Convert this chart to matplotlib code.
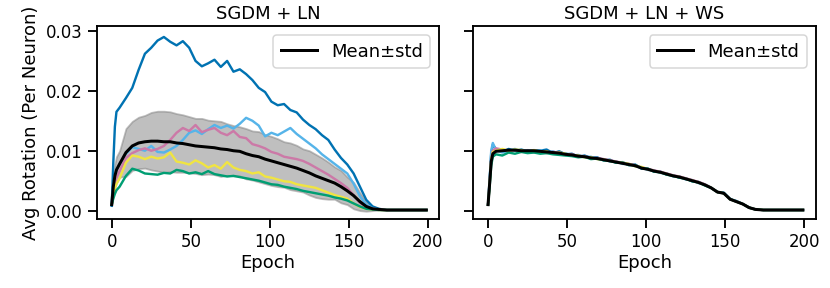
import matplotlib
matplotlib.use("Agg")
import matplotlib.pyplot as plt

# ---------------- data ----------------
epochs = [0, 1, 2, 3, 5, 9, 13, 17, 21, 25, 29, 33, 37, 41, 45, 49, 53, 57, 61, 65,
          69, 73, 77, 81, 85, 89, 93, 97, 101, 105, 109, 113, 117, 121, 125, 129,
          133, 137, 141, 145, 149, 153, 157, 161, 165, 169, 174, 185, 199]

# Left panel: SGDM + LN
ln_blue = [0.0008, 0.0080, 0.0140, 0.0165, 0.0172, 0.0188, 0.0205, 0.0235, 0.0262, 0.0272,
           0.0284, 0.0290, 0.0282, 0.0276, 0.0283, 0.0272, 0.0250, 0.0241, 0.0246, 0.0252,
           0.0240, 0.0250, 0.0232, 0.0236, 0.0228, 0.0218, 0.0205, 0.0198, 0.0182, 0.0176,
           0.0178, 0.0168, 0.0164, 0.0152, 0.0143, 0.0136, 0.0126, 0.0118, 0.0102, 0.0088,
           0.0077, 0.0062, 0.0040, 0.0018, 0.0007, 0.0003, 0.0001, 0.0001, 0.0001]
ln_skyblue = [0.0010, 0.0040, 0.0058, 0.0068, 0.0078, 0.0095, 0.0106, 0.0103, 0.0100, 0.0108,
              0.0098, 0.0097, 0.0102, 0.0108, 0.0118, 0.0130, 0.0134, 0.0128, 0.0136, 0.0143,
              0.0138, 0.0142, 0.0137, 0.0145, 0.0155, 0.0150, 0.0142, 0.0124, 0.0130, 0.0126,
              0.0132, 0.0138, 0.0128, 0.0120, 0.0112, 0.0104, 0.0094, 0.0086, 0.0078, 0.0070,
              0.0062, 0.0045, 0.0024, 0.0010, 0.0004, 0.0002, 0.0001, 0.0001, 0.0001]
ln_pink = [0.0010, 0.0030, 0.0045, 0.0055, 0.0066, 0.0088, 0.0096, 0.0101, 0.0104, 0.0100,
           0.0103, 0.0108, 0.0118, 0.0130, 0.0138, 0.0133, 0.0143, 0.0131, 0.0135, 0.0138,
           0.0130, 0.0126, 0.0133, 0.0123, 0.0121, 0.0111, 0.0108, 0.0104, 0.0098, 0.0095,
           0.0090, 0.0088, 0.0086, 0.0083, 0.0078, 0.0072, 0.0066, 0.0060, 0.0053, 0.0046,
           0.0038, 0.0026, 0.0013, 0.0006, 0.0003, 0.0002, 0.0001, 0.0001, 0.0001]
ln_yellow = [0.0010, 0.0025, 0.0038, 0.0045, 0.0054, 0.0080, 0.0092, 0.0090, 0.0086, 0.0090,
             0.0087, 0.0089, 0.0097, 0.0082, 0.0080, 0.0077, 0.0084, 0.0079, 0.0072, 0.0076,
             0.0070, 0.0081, 0.0072, 0.0068, 0.0066, 0.0062, 0.0064, 0.0057, 0.0055, 0.0052,
             0.0049, 0.0048, 0.0044, 0.0042, 0.0040, 0.0038, 0.0034, 0.0030, 0.0026, 0.0023,
             0.0020, 0.0012, 0.0006, 0.0003, 0.0002, 0.0001, 0.0001, 0.0001, 0.0001]
ln_green = [0.0010, 0.0020, 0.0028, 0.0034, 0.0040, 0.0058, 0.0070, 0.0067, 0.0062, 0.0061,
            0.0060, 0.0063, 0.0062, 0.0068, 0.0066, 0.0062, 0.0064, 0.0061, 0.0066, 0.0061,
            0.0059, 0.0057, 0.0058, 0.0056, 0.0054, 0.0052, 0.0050, 0.0047, 0.0044, 0.0043,
            0.0040, 0.0038, 0.0036, 0.0033, 0.0031, 0.0029, 0.0027, 0.0025, 0.0022, 0.0020,
            0.0017, 0.0012, 0.0007, 0.0003, 0.0002, 0.0001, 0.0001, 0.0001, 0.0001]
ln_mean = [0.0010, 0.0040, 0.0058, 0.0068, 0.0078, 0.0097, 0.0108, 0.0113, 0.0115, 0.0116,
           0.0116, 0.0115, 0.0115, 0.0113, 0.0112, 0.0110, 0.0108, 0.0107, 0.0106, 0.0105,
           0.0103, 0.0102, 0.0100, 0.0099, 0.0095, 0.0092, 0.0090, 0.0086, 0.0083, 0.0080,
           0.0077, 0.0074, 0.0071, 0.0067, 0.0063, 0.0058, 0.0054, 0.0050, 0.0046, 0.0040,
           0.0033, 0.0025, 0.0015, 0.0007, 0.0003, 0.0002, 0.0001, 0.0001, 0.0001]
ln_std = [0.0000, 0.0015, 0.0020, 0.0022, 0.0022, 0.0040, 0.0041, 0.0043, 0.0044, 0.0048,
          0.0050, 0.0051, 0.0050, 0.0049, 0.0048, 0.0047, 0.0046, 0.0047, 0.0045, 0.0045,
          0.0046, 0.0043, 0.0042, 0.0041, 0.0042, 0.0041, 0.0042, 0.0041, 0.0041, 0.0040,
          0.0038, 0.0039, 0.0038, 0.0036, 0.0037, 0.0036, 0.0034, 0.0031, 0.0027, 0.0027,
          0.0023, 0.0022, 0.0015, 0.0008, 0.0003, 0.0001, 0.0001, 0.0000, 0.0000]

# Right panel: SGDM + LN + WS
ws_blue = [0.0010, 0.0050, 0.0095, 0.0110, 0.0103, 0.0098, 0.0103, 0.0100, 0.0102, 0.0099,
           0.0101, 0.0100, 0.0102, 0.0096, 0.0099, 0.0094, 0.0095, 0.0090, 0.0092, 0.0088,
           0.0089, 0.0084, 0.0085, 0.0080, 0.0081, 0.0076, 0.0077, 0.0070, 0.0070, 0.0065,
           0.0065, 0.0060, 0.0059, 0.0055, 0.0054, 0.0049, 0.0048, 0.0043, 0.0038, 0.0031,
           0.0030, 0.0019, 0.0016, 0.0011, 0.0005, 0.0002, 0.0001, 0.0001, 0.0001]
ws_skyblue = [0.0010, 0.0052, 0.0100, 0.0113, 0.0101, 0.0097, 0.0100, 0.0103, 0.0099, 0.0101,
              0.0099, 0.0101, 0.0097, 0.0099, 0.0095, 0.0096, 0.0092, 0.0093, 0.0089, 0.0090,
              0.0086, 0.0086, 0.0082, 0.0082, 0.0078, 0.0078, 0.0074, 0.0072, 0.0068, 0.0067,
              0.0063, 0.0062, 0.0057, 0.0057, 0.0052, 0.0051, 0.0046, 0.0044, 0.0038, 0.0031,
              0.0029, 0.0020, 0.0015, 0.0011, 0.0005, 0.0002, 0.0001, 0.0001, 0.0001]
ws_pink = [0.0010, 0.0046, 0.0088, 0.0100, 0.0104, 0.0102, 0.0099, 0.0101, 0.0098, 0.0100,
           0.0097, 0.0099, 0.0096, 0.0098, 0.0097, 0.0093, 0.0094, 0.0091, 0.0091, 0.0087,
           0.0088, 0.0086, 0.0084, 0.0082, 0.0080, 0.0078, 0.0076, 0.0072, 0.0070, 0.0067,
           0.0065, 0.0062, 0.0059, 0.0057, 0.0054, 0.0051, 0.0048, 0.0044, 0.0038, 0.0031,
           0.0029, 0.0019, 0.0015, 0.0011, 0.0005, 0.0002, 0.0001, 0.0001, 0.0001]
ws_yellow = [0.0010, 0.0044, 0.0085, 0.0098, 0.0100, 0.0103, 0.0100, 0.0102, 0.0101, 0.0098,
             0.0101, 0.0098, 0.0099, 0.0095, 0.0097, 0.0095, 0.0092, 0.0092, 0.0089, 0.0089,
             0.0086, 0.0085, 0.0083, 0.0081, 0.0080, 0.0078, 0.0074, 0.0073, 0.0069, 0.0066,
             0.0064, 0.0061, 0.0058, 0.0056, 0.0053, 0.0050, 0.0047, 0.0043, 0.0038, 0.0031,
             0.0029, 0.0019, 0.0015, 0.0011, 0.0005, 0.0002, 0.0001, 0.0001, 0.0001]
ws_green = [0.0010, 0.0040, 0.0075, 0.0090, 0.0094, 0.0092, 0.0097, 0.0095, 0.0098, 0.0096,
            0.0097, 0.0095, 0.0096, 0.0094, 0.0093, 0.0092, 0.0091, 0.0089, 0.0090, 0.0086,
            0.0087, 0.0084, 0.0083, 0.0080, 0.0080, 0.0076, 0.0076, 0.0071, 0.0070, 0.0065,
            0.0064, 0.0060, 0.0058, 0.0055, 0.0053, 0.0049, 0.0047, 0.0042, 0.0038, 0.0031,
            0.0029, 0.0019, 0.0015, 0.0011, 0.0005, 0.0002, 0.0001, 0.0001, 0.0001]
ws_mean = [0.0010, 0.0045, 0.0082, 0.0095, 0.0099, 0.0100, 0.0101, 0.0101, 0.0100, 0.0100,
           0.0100, 0.0099, 0.0098, 0.0097, 0.0096, 0.0094, 0.0093, 0.0091, 0.0090, 0.0088,
           0.0087, 0.0085, 0.0083, 0.0081, 0.0079, 0.0077, 0.0075, 0.0071, 0.0069, 0.0066,
           0.0064, 0.0061, 0.0058, 0.0056, 0.0053, 0.0050, 0.0047, 0.0043, 0.0038, 0.0031,
           0.0029, 0.0019, 0.0015, 0.0011, 0.0005, 0.0002, 0.0001, 0.0001, 0.0001]

titles = ["SGDM + LN", "SGDM + LN + WS"]
xticks = [0, 50, 100, 150, 200]
yticks = [0.00, 0.01, 0.02, 0.03]
colors = ["#0072B2", "#56B4E9", "#CC79A7", "#F0E442", "#009E73"]

# ---------------- style ----------------
plt.rcParams.update({
    "font.family": ["DejaVu Sans"],
    "axes.linewidth": 1.25,
    "xtick.major.size": 6, "ytick.major.size": 6,
    "xtick.major.width": 1.25, "ytick.major.width": 1.25,
    "xtick.labelsize": 11, "ytick.labelsize": 11,
})

fig = plt.figure(figsize=(830 / 108, 288 / 108), dpi=108)
ax1 = fig.add_axes([0.1165, 0.2396, 0.4124, 0.6684])
ax2 = fig.add_axes([0.5699, 0.2396, 0.4127, 0.6684], sharey=ax1)

left_series = [ln_blue, ln_skyblue, ln_pink, ln_yellow, ln_green]
right_series = [ws_blue, ws_skyblue, ws_pink, ws_yellow, ws_green]

lo = [m - s for m, s in zip(ln_mean, ln_std)]
hi = [m + s for m, s in zip(ln_mean, ln_std)]
ax1.fill_between(epochs, lo, hi, color="grey", alpha=0.5, linewidth=1.2, zorder=1)
for ys, c in zip(left_series, colors):
    ax1.plot(epochs, ys, color=c, lw=1.6, zorder=2)
ax1.plot(epochs, ln_mean, color="black", lw=2.0, label="Mean\u00b1std", zorder=3)

for ys, c in zip(right_series, colors):
    ax2.plot(epochs, ys, color=c, lw=1.6, zorder=2)
ax2.plot(epochs, ws_mean, color="black", lw=2.0, label="Mean\u00b1std", zorder=3)

for ax, t in zip([ax1, ax2], titles):
    ax.set_title(t, fontsize=12, pad=5)
    ax.set_xlim(-9.5, 207)
    ax.set_xticks(xticks)
    ax.set_xlabel("Epoch", fontsize=12, labelpad=2)
    ax.legend(loc="upper right", fontsize=12, handlelength=2.0)

ax1.set_ylim(-0.0014, 0.03075)
ax1.set_yticks(yticks)
ax1.set_yticklabels([f"{v:.2f}" for v in yticks])
ax1.set_ylabel("Avg Rotation (Per Neuron)", fontsize=12)
plt.setp(ax2.get_yticklabels(), visible=False)

fig.savefig("out.png", dpi=108)
